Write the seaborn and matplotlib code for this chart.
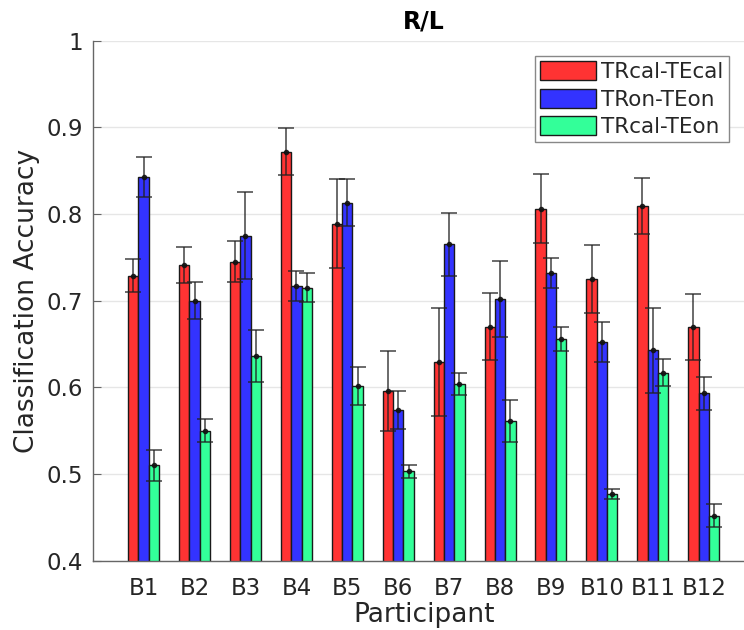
import numpy as np
import pandas as pd
import matplotlib
matplotlib.use("Agg")
import matplotlib.pyplot as plt
import seaborn as sns

# Per-participant mean classification accuracy and its standard error
participants = ["B1", "B2", "B3", "B4", "B5", "B6", "B7", "B8", "B9", "B10", "B11", "B12"]
conditions = ["TRcal-TEcal", "TRon-TEon", "TRcal-TEon"]

acc_cal_cal = [0.729, 0.741, 0.745, 0.872, 0.789, 0.596, 0.629, 0.670, 0.806, 0.725, 0.809, 0.670]
acc_on_on = [0.843, 0.700, 0.775, 0.717, 0.813, 0.574, 0.765, 0.702, 0.732, 0.652, 0.643, 0.593]
acc_cal_on = [0.510, 0.550, 0.636, 0.715, 0.602, 0.503, 0.604, 0.561, 0.656, 0.477, 0.617, 0.452]

err_cal_cal = [0.019, 0.021, 0.024, 0.027, 0.051, 0.046, 0.062, 0.039, 0.040, 0.039, 0.032, 0.038]
err_on_on = [0.023, 0.021, 0.050, 0.017, 0.027, 0.022, 0.036, 0.044, 0.017, 0.023, 0.049, 0.019]
err_cal_on = [0.018, 0.0135, 0.030, 0.017, 0.022, 0.0075, 0.013, 0.0245, 0.014, 0.0056, 0.016, 0.013]

colors = ["#ff3333", "#3333ff", "#33ff99"]

means = [acc_cal_cal, acc_on_on, acc_cal_on]
errors = [err_cal_cal, err_on_on, err_cal_on]

df = pd.DataFrame({
    "Participant": participants * 3,
    "Condition": np.repeat(conditions, len(participants)),
    "Accuracy": np.concatenate(means),
})

sns.set_style("white")
plt.rcParams["font.family"] = ["DejaVu Sans"]
text_color = "#262626"

fig = plt.figure(figsize=(7.44, 6.30), dpi=100)
ax = fig.add_axes([0.1246, 0.110, 0.8897, 0.8254])

sns.barplot(
    data=df, x="Participant", y="Accuracy", hue="Condition",
    order=participants, hue_order=conditions, palette=colors,
    width=0.61, saturation=1, errorbar=None,
    edgecolor="#1a1a1a", linewidth=1.0, ax=ax, zorder=2,
)

# Error bars with a dot at each mean, placed on the drawn bars
for container, err in zip(ax.containers, errors):
    for bar, e in zip(container, err):
        cx = bar.get_x() + bar.get_width() / 2
        h = bar.get_height()
        ax.errorbar(cx, h, yerr=e, fmt="o", ms=3, color="#111111",
                    ecolor="#222222", elinewidth=1.1, capsize=5.5,
                    capthick=1.1, alpha=0.85, zorder=3)

ax.set_ylim(0.4, 1.0)
ax.set_xlim(-1.0, 12.0)
ax.set_yticks([0.4, 0.5, 0.6, 0.7, 0.8, 0.9, 1.0])
ax.set_yticklabels(["0.4", "0.5", "0.6", "0.7", "0.8", "0.9", "1"])
ax.yaxis.grid(True, color="#e6e6e6", linewidth=1.0, zorder=0)
ax.set_axisbelow(True)

for side in ["top", "right"]:
    ax.spines[side].set_visible(False)
for side in ["left", "bottom"]:
    ax.spines[side].set_color("#666666")
    ax.spines[side].set_linewidth(1.0)

ax.tick_params(axis="y", direction="in", length=6, color="#666666",
               labelsize=16.5, labelcolor=text_color, pad=7, left=True)
ax.tick_params(axis="x", length=0, labelsize=16.5, labelcolor=text_color, pad=12)

ax.set_xlabel("Participant", fontsize=19, color=text_color, labelpad=1)
ax.set_ylabel("Classification Accuracy", fontsize=19, color=text_color, labelpad=5)
ax.set_title("R/L", fontsize=17, fontweight="bold", color="black", pad=9)

handles, labels = ax.get_legend_handles_labels()
leg = ax.legend(
    handles, labels, loc="upper right",
    bbox_to_anchor=(729 / 744, 1 - 55.7 / 630), bbox_transform=fig.transFigure,
    borderaxespad=0, fontsize=15.5, frameon=True, fancybox=False,
    edgecolor="#888888", framealpha=1, handlelength=2.6, handleheight=1.0,
    handletextpad=0.25, labelspacing=0.3, borderpad=0.25,
)
for t in leg.get_texts():
    t.set_color(text_color)

fig.savefig("out.png", dpi=100)
